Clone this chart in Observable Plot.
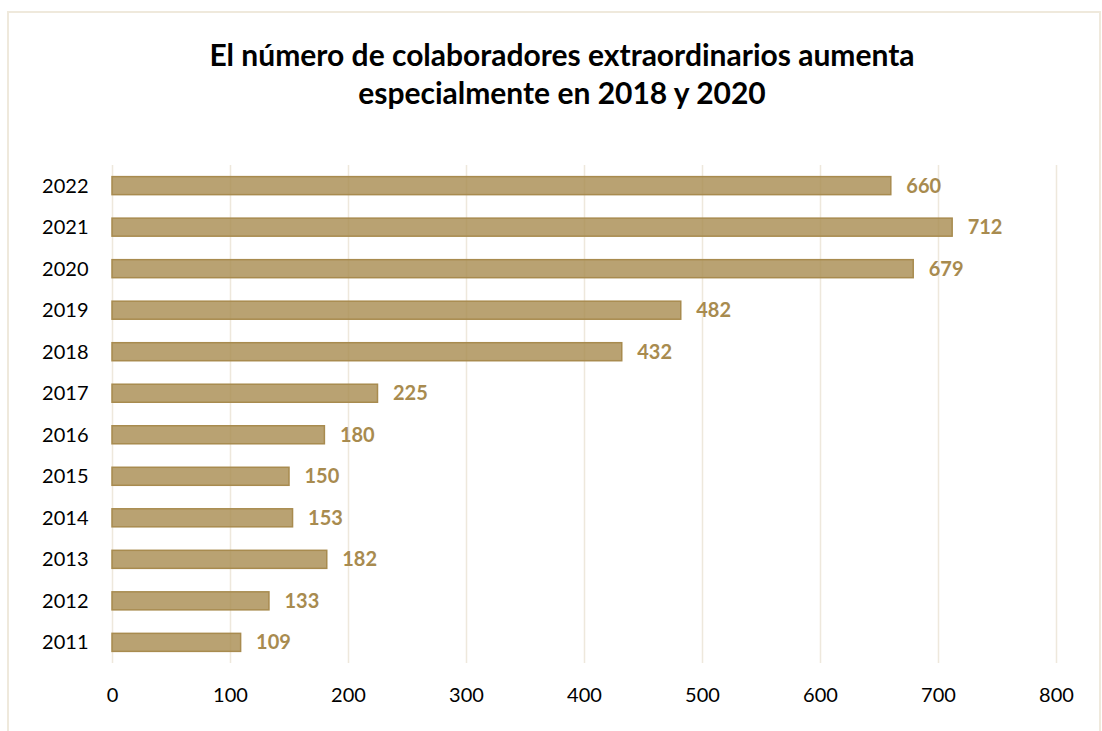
<!DOCTYPE html>
<html>
<head>
<meta charset="utf-8">
<script src="https://cdn.jsdelivr.net/npm/d3@7"></script>
<script src="https://cdn.jsdelivr.net/npm/@observablehq/plot@0.6"></script>
<style>
  html, body { margin: 0; padding: 0; background: #fff; overflow: hidden; }
  body { width: 1102px; height: 731px; position: relative; font-family: Lato, "Open Sans", sans-serif; }
  #frame { position: absolute; left: 7px; top: 11px; width: 1094px; height: 740px; border: 2px solid #EFE9DC; box-sizing: border-box; }
  #title { position: absolute; left: 0; top: 35px; width: 1124px; text-align: center; font-weight: bold; font-size: 30px; line-height: 38px; color: #000; }
  #chart { position: absolute; left: 0; top: 140px; }
</style>
</head>
<body>
<div id="frame"></div>
<div id="title">El número de colaboradores extraordinarios aumenta<br>especialmente en 2018 y 2020</div>
<div id="chart"></div>
<script>
const years = ["2011","2012","2013","2014","2015","2016","2017","2018","2019","2020","2021","2022"];
const values = [109, 133, 182, 153, 150, 180, 225, 432, 482, 679, 712, 660];
const xTicks = [0, 100, 200, 300, 400, 500, 600, 700, 800];

const data = years.map((y, i) => ({year: y, value: values[i]}));

const chart = Plot.plot({
  width: 1102,
  height: 591,
  marginTop: 25,
  marginBottom: 68,
  marginLeft: 112,
  marginRight: 46,
  style: {fontFamily: "Lato, 'Open Sans', sans-serif", fontSize: "20px", color: "#000", background: "transparent"},
  x: {domain: [0, 800], ticks: xTicks, label: null, tickSize: 0, tickPadding: 24},
  y: {domain: years.slice().reverse(), label: null, paddingInner: 0.566, paddingOuter: 0.28, round: false, tickSize: 0, tickPadding: 24},
  marks: [
    Plot.ruleX(xTicks, {stroke: "#EEE8DC", strokeWidth: 1.5}),
    Plot.barX(data, {x: "value", y: "year", fill: "#A88B4F", fillOpacity: 0.8, stroke: "#A88B4F", strokeWidth: 1.5}),
    Plot.text(data, {x: "value", y: "year", text: d => String(d.value), textAnchor: "start", dx: 15, fontWeight: "bold", fontSize: 20, fill: "#A88B4F"}),
    Plot.axisX({ticks: xTicks, tickSize: 0, tickPadding: 24, label: null, fill: "#000"}),
    Plot.axisY({tickSize: 0, tickPadding: 24, label: null, fill: "#000"})
  ]
});
document.getElementById("chart").appendChild(chart);
</script>
</body>
</html>
